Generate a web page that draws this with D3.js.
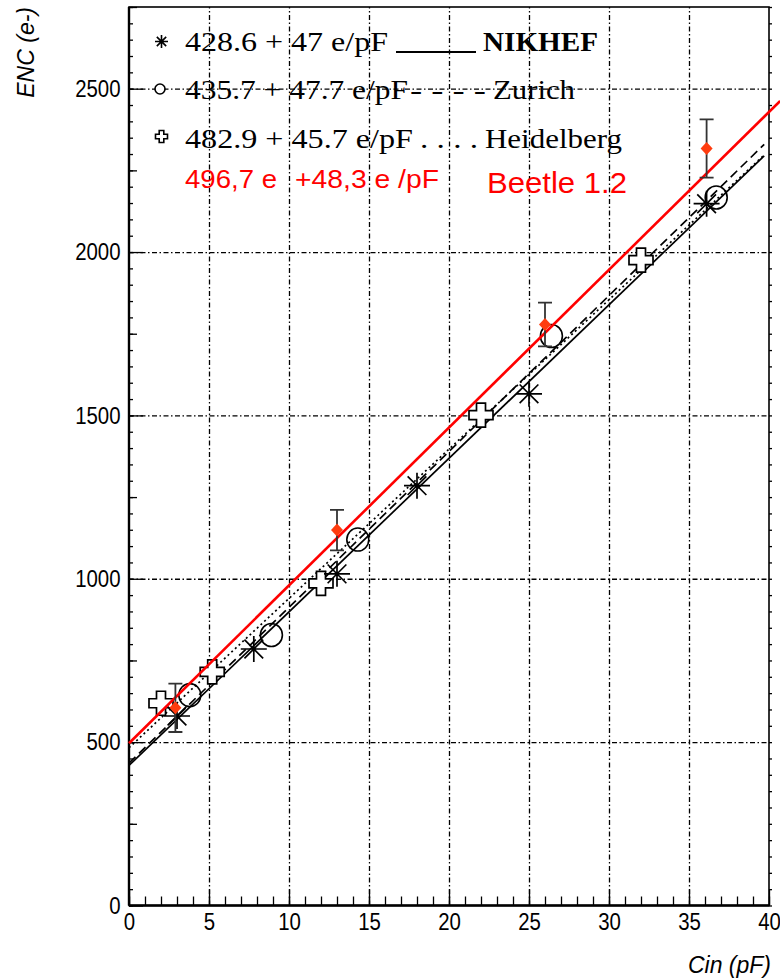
<!DOCTYPE html>
<html>
<head>
<meta charset="utf-8">
<script src="https://cdn.jsdelivr.net/npm/d3@7"></script>
<style>
  body { margin: 0; background: #fff; }
  svg { display: block; }
</style>
</head>
<body>
<div id="chart"></div>
<script>
const nikhefC = [3.0, 7.8, 13.0, 18.0, 25.0, 36.1];
const nikhefENC = [580, 785, 1015, 1285, 1566, 2148];
const zurichC = [3.8, 8.9, 14.3, 26.4, 36.7];
const zurichENC = [644, 828, 1120, 1743, 2167];
const heidelC = [2.0, 5.2, 12.0, 22.0, 32.0];
const heidelENC = [619, 715, 986, 1501, 1975];
const beetleC = [2.9, 13.0, 26.0, 36.1];
const beetleENC = [605, 1149, 1778, 2317];
const beetleErr = [74, 62, 67, 89];

// linear fits: ENC = a + b * Cin
const fitNames = ["NIKHEF", "Zurich", "Heidelberg", "Beetle 1.2"];
const fitA = [428.6, 435.7, 482.9, 496.7];
const fitB = [47, 47.7, 45.7, 48.3];

const xTicks = [0, 5, 10, 15, 20, 25, 30, 35, 40];
const yTicks = [0, 500, 1000, 1500, 2000, 2500];

const W = 780, H = 980;
const svg = d3.select("#chart").append("svg")
    .attr("width", W)
    .attr("height", H);

const x = d3.scaleLinear().domain([0, 40]).range([129, 769]);
const y = d3.scaleLinear().domain([0, 2750]).range([905.5, 7]);
const x0 = x(0), x1 = x(40), yb = y(0), yt = y(2750);

// grid (dash-dot)
const grid = svg.append("g");
grid.append("g")
    .attr("transform", `translate(0,${yb})`)
    .call(d3.axisBottom(x).tickValues(xTicks.slice(1, -1)).tickSize(-(yb - yt)).tickFormat(""))
    .call(g => g.select(".domain").remove());
grid.append("g")
    .attr("transform", `translate(${x0},0)`)
    .call(d3.axisLeft(y).tickValues(yTicks.slice(1)).tickSize(-(x1 - x0)).tickFormat(""))
    .call(g => g.select(".domain").remove());
grid.selectAll("line")
    .attr("stroke", "#000")
    .attr("stroke-width", 1.8)
    .attr("stroke-dasharray", "5,2.5,1.5,2.5");

// minor ticks
svg.append("g")
    .attr("transform", `translate(0,${yb})`)
    .call(d3.axisBottom(x).tickValues(d3.range(0, 41, 1)).tickSize(-9).tickFormat(""))
    .call(g => g.select(".domain").remove());
svg.append("g")
    .attr("transform", `translate(${x0},0)`)
    .call(d3.axisLeft(y).tickValues(d3.range(0, 2751, 50)).tickSize(-4).tickFormat(""))
    .call(g => g.select(".domain").remove());
svg.append("g")
    .attr("transform", `translate(${x0},0)`)
    .call(d3.axisLeft(y).tickValues(d3.range(250, 2751, 500)).tickSize(-8).tickFormat(""))
    .call(g => g.select(".domain").remove());
svg.append("g")
    .attr("transform", `translate(${x1},0)`)
    .call(d3.axisRight(y).tickValues(d3.range(0, 2751, 50)).tickSize(3).tickFormat(""))
    .call(g => g.select(".domain").remove());

// major ticks + labels
const xAxis = svg.append("g")
    .attr("transform", `translate(0,${yb})`)
    .call(d3.axisBottom(x).tickValues(xTicks).tickSize(-16).tickPadding(7).tickFormat(d3.format("d")));
const yAxis = svg.append("g")
    .attr("transform", `translate(${x0},0)`)
    .call(d3.axisLeft(y).tickValues(yTicks).tickSize(-14).tickPadding(10).tickFormat(d3.format("d")));
[xAxis, yAxis].forEach(a => {
    a.select(".domain").remove();
    a.selectAll("text")
        .attr("fill", "#000")
        .style("font-family", "'Liberation Sans', Arial, sans-serif")
        .style("font-size", "24px")
        .attr("transform", "scale(0.85,1)");
});
svg.selectAll(".tick line").attr("stroke", "#000").attr("stroke-width", 1.3);

// frame
svg.append("rect")
    .attr("x", x0).attr("y", yt)
    .attr("width", x1 - x0).attr("height", yb - yt)
    .attr("fill", "none").attr("stroke", "#000").attr("stroke-width", 1.6);
svg.append("line").attr("x1", x0).attr("x2", x0).attr("y1", yt).attr("y2", yb)
    .attr("stroke", "#000").attr("stroke-width", 2.4);
svg.append("line").attr("x1", x0).attr("x2", x1).attr("y1", yb).attr("y2", yb)
    .attr("stroke", "#000").attr("stroke-width", 2.4);

// axis titles
svg.append("text")
    .attr("transform", `translate(34,7) rotate(-90)`)
    .attr("text-anchor", "end")
    .style("font-family", "'Liberation Sans', Arial, sans-serif")
    .style("font-style", "italic")
    .style("font-size", "23px")
    .text("ENC (e-)");
svg.append("text")
    .attr("x", 771).attr("y", 973)
    .attr("text-anchor", "end")
    .style("font-family", "'Liberation Sans', Arial, sans-serif")
    .style("font-style", "italic")
    .style("font-size", "23px")
    .text("Cin (pF)");

// fit lines
const fitStyle = [
    {dash: null, end: 39.7, color: "#000", w: 1.7},
    {dash: "9,5", end: 39.7, color: "#000", w: 1.7},
    {dash: "2,3", end: 39.7, color: "#000", w: 1.7},
    {dash: null, end: 40.7, color: "#ff0000", w: 2.6}
];
const fitLine = d3.line().x(d => x(d[0])).y(d => y(d[1]));
const drawFit = i => svg.append("path")
    .attr("d", fitLine([[0, fitA[i]], [fitStyle[i].end, fitA[i] + fitB[i] * fitStyle[i].end]]))
    .attr("fill", "none")
    .attr("stroke", fitStyle[i].color)
    .attr("stroke-width", fitStyle[i].w)
    .attr("stroke-dasharray", fitStyle[i].dash);
[0, 1, 2].forEach(drawFit);

// markers
const star = s => {
    const d = s * 0.72;
    return `M${-s},0L${s},0M0,${-s}L0,${s}M${-d},${-d}L${d},${d}M${-d},${d}L${d},${-d}`;
};
const plus = (a, w) => `M${-w},${-a}L${w},${-a}L${w},${-w}L${a},${-w}L${a},${w}L${w},${w}L${w},${a}L${-w},${a}L${-w},${w}L${-a},${w}L${-a},${-w}L${-w},${-w}Z`;

svg.append("g").selectAll("path")
    .data(heidelC.map((c, i) => [c, heidelENC[i]]))
    .join("path")
    .attr("transform", d => `translate(${x(d[0])},${y(d[1])})`)
    .attr("d", plus(12, 4.5))
    .attr("fill", "#fff").attr("stroke", "#000").attr("stroke-width", 1.7);

svg.append("g").selectAll("ellipse")
    .data(zurichC.map((c, i) => [c, zurichENC[i]]))
    .join("ellipse")
    .attr("cx", d => x(d[0])).attr("cy", d => y(d[1]))
    .attr("rx", 11).attr("ry", 11.5)
    .attr("fill", "none").attr("stroke", "#000").attr("stroke-width", 1.6);

svg.append("g").selectAll("path")
    .data(nikhefC.map((c, i) => [c, nikhefENC[i]]))
    .join("path")
    .attr("transform", d => `translate(${x(d[0])},${y(d[1])})`)
    .attr("d", star(13))
    .attr("fill", "none").attr("stroke", "#000").attr("stroke-width", 1.7);

drawFit(3);

// Beetle points with error bars
const beetle = beetleC.map((c, i) => ({c, v: beetleENC[i], e: beetleErr[i]}));
const eb = svg.append("g").attr("stroke", "#333").attr("stroke-width", 1.8).attr("fill", "none");
eb.selectAll("path")
    .data(beetle)
    .join("path")
    .attr("d", d => {
        const px = x(d.c), top = y(d.v + d.e), bot = y(d.v - d.e);
        return `M${px - 7},${top}L${px + 7},${top}M${px},${top}L${px},${bot}M${px - 7},${bot}L${px + 7},${bot}`;
    });
svg.append("g").selectAll("path")
    .data(beetle)
    .join("path")
    .attr("transform", d => `translate(${x(d.c)},${y(d.v)})`)
    .attr("d", "M0,-6.5L6,0L0,6.5L-6,0Z")
    .attr("fill", "#ff3c0f");

// legend
const serif = "'Liberation Serif', 'Times New Roman', serif";
const sans = "'Liberation Sans', Arial, sans-serif";
const lg = svg.append("g");
const addText = (tx, ty, str, len, opts = {}) => lg.append("text")
    .attr("x", tx).attr("y", ty)
    .attr("textLength", len).attr("lengthAdjust", "spacingAndGlyphs")
    .attr("fill", opts.color || "#000")
    .style("font-family", opts.font || serif)
    .style("font-size", (opts.size || 28) + "px")
    .style("font-weight", opts.bold ? "bold" : "normal")
    .text(str);

lg.append("path").attr("transform", "translate(161.5,41.5)").attr("d", star(6.5))
    .attr("stroke", "#000").attr("stroke-width", 1.6).attr("fill", "none");
addText(185, 51, `${fitA[0]} + ${fitB[0]} e/pF`, 203);
lg.append("line").attr("x1", 396).attr("x2", 476).attr("y1", 52).attr("y2", 52)
    .attr("stroke", "#000").attr("stroke-width", 2.2);
addText(483, 51, fitNames[0], 115, {bold: true});

lg.append("circle").attr("cx", 160).attr("cy", 89).attr("r", 5)
    .attr("fill", "#fff").attr("stroke", "#000").attr("stroke-width", 1.6);
addText(185, 99, `${fitA[1]} + ${fitB[1]} e/pF`, 223);
addText(410, 99, "- - - -", 76);
addText(493, 99, fitNames[1], 82);

lg.append("path").attr("transform", "translate(161.5,136.5)").attr("d", plus(6, 2.3))
    .attr("fill", "#fff").attr("stroke", "#000").attr("stroke-width", 1.6);
addText(185, 148, `${fitA[2]} + ${fitB[2]} e/pF`, 228);
addText(420, 148, ". . . .", 58);
addText(485, 148, fitNames[2], 137);

addText(185, 188, "496,7 e", 92, {font: sans, size: 25, color: "#ff0000"});
addText(295, 188, "+48,3 e /pF", 144, {font: sans, size: 25, color: "#ff0000"});
addText(487, 193, fitNames[3], 140, {font: sans, size: 30, color: "#ff0000"});
</script>
</body>
</html>
